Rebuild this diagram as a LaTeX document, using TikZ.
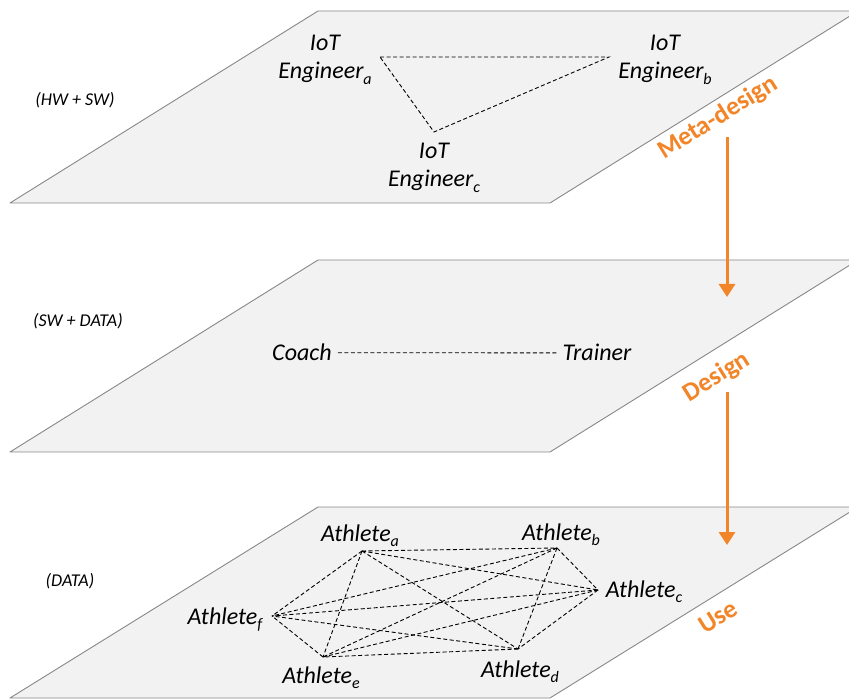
\documentclass[tikz,border=0pt]{standalone}
\usepackage{fontspec}
\setmainfont{Carlito}
\usetikzlibrary{arrows.meta}
\definecolor{planefill}{HTML}{F2F2F2}
\definecolor{planeedge}{HTML}{888888}
\definecolor{accent}{RGB}{242,133,40}
\newcommand{\sbx}[1]{\raisebox{-5.5pt}{\fontsize{16}{16}\selectfont #1}}
\begin{document}
\begin{tikzpicture}[x=1pt,y=-1pt,
  plane/.style={fill=planefill, draw=planeedge, line width=0.9pt, line join=round},
  actor/.style={font=\fontsize{24}{28}\selectfont\itshape, align=center, inner sep=0pt},
  layer/.style={font=\fontsize{18}{21}\selectfont\itshape, inner sep=0pt},
  link/.style={draw=black, line width=0.9pt, dash pattern=on 4pt off 2.5pt},
  phase/.style={font=\fontsize{26}{30}\selectfont\bfseries, text=accent, rotate=32, inner sep=0pt},
  flow/.style={draw=accent, line width=3pt, -{Triangle[length=13pt,width=16pt]}}
]
\clip (0,0) rectangle (849,700);
\fill[white] (0,0) rectangle (849,700);
% planes
\path[plane] (10,203) -- (550,203) -- (858,11) -- (318,11) -- cycle;
\path[plane] (10,452) -- (550,452) -- (858,260) -- (318,260) -- cycle;
\path[plane] (10,698) -- (550,698) -- (858,507) -- (318,507) -- cycle;
% layer labels
\node[layer] (hwsw) at (75,100) {(HW + SW)};
\node[layer] (swdata) at (78,321) {(SW + DATA)};
\node[layer] (data) at (70,581) {(DATA)};
% top layer
\node[actor, anchor=north] (ea) at (325,35) {IoT\\Engineer\sbx{a}};
\node[actor, anchor=north] (eb) at (665,35) {IoT\\Engineer\sbx{b}};
\node[actor, anchor=north] (ec) at (434,143) {IoT\\Engineer\sbx{c}};
\coordinate (ta) at (380,57);
\coordinate (tb) at (609,57);
\coordinate (tc) at (434,132);
\draw[link] (ta) -- (tb) -- (tc) -- cycle;
% middle layer
\node[actor, anchor=base] (coach) at (302,361) {Coach};
\node[actor, anchor=base] (trainer) at (597,361) {Trainer};
\draw[link, shorten <=6pt, shorten >=6pt] (coach.east) -- (trainer.west);
% bottom layer
\node[actor, anchor=base] (aa) at (360,541) {Athlete\sbx{a}};
\node[actor, anchor=base] (ab) at (561,540) {Athlete\sbx{b}};
\node[actor, anchor=base] (ac) at (644,597) {Athlete\sbx{c}};
\node[actor, anchor=base] (ad) at (520,677) {Athlete\sbx{d}};
\node[actor, anchor=base] (ae) at (321,683) {Athlete\sbx{e}};
\node[actor, anchor=base] (af) at (225,624) {Athlete\sbx{f}};
\coordinate (pa) at (362,551);
\coordinate (pb) at (557,548);
\coordinate (pc) at (598,590);
\coordinate (pd) at (518,649);
\coordinate (pe) at (323,657);
\coordinate (pf) at (272,616);
\foreach \u/\v in {pa/pb,pa/pc,pa/pd,pa/pe,pa/pf,pb/pc,pb/pd,pb/pe,pb/pf,pc/pd,pc/pe,pc/pf,pd/pe,pd/pf,pe/pf}
  \draw[link] (\u) -- (\v);
% phases
\node[phase] (meta) at (718,118) {Meta-design};
\node[phase] (design) at (717,377) {Design};
\node[phase] (use) at (718,617) {Use};
\coordinate (m1) at (727,137);
\coordinate (m2) at (727,297);
\coordinate (d1) at (727,392);
\coordinate (d2) at (727,545);
\draw[flow] (m1) -- (m2);
\draw[flow] (d1) -- (d2);
\end{tikzpicture}
\end{document}
